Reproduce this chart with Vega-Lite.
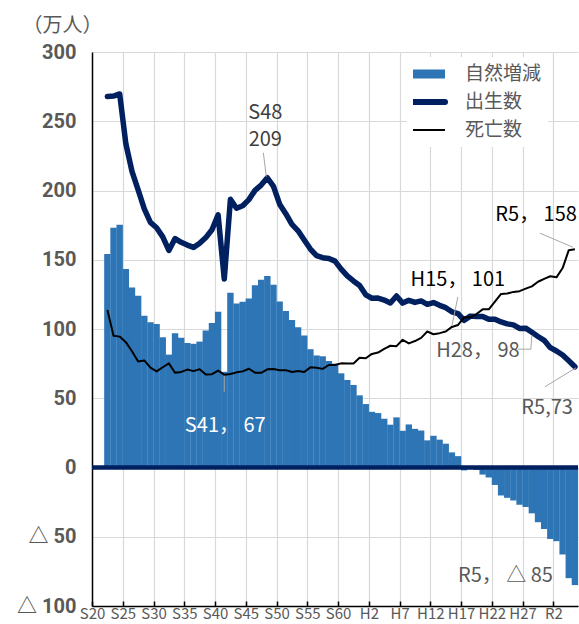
{
  "$schema": "https://vega.github.io/schema/vega-lite/v6.json",
  "width": 486,
  "height": 554,
  "autosize": "none",
  "padding": {"left": 92, "top": 52, "right": 1, "bottom": 18},
  "background": "white",
  "config": {
    "view": {"stroke": null},
    "font": "Noto Sans CJK JP",
    "axis": {"labelOverlap": false},
    "axisX": {"labelOverlap": false}
  },
  "datasets": {
    "d": [
      {"year":1947,"birth":267.9,"death":113.8,"nat":154.1},
      {"year":1948,"birth":268.2,"death":95.1,"nat":173.1},
      {"year":1949,"birth":269.7,"death":94.5,"nat":175.2},
      {"year":1950,"birth":233.8,"death":90.5,"nat":143.3},
      {"year":1951,"birth":213.8,"death":83.9,"nat":129.9},
      {"year":1952,"birth":200.5,"death":76.5,"nat":124.0},
      {"year":1953,"birth":186.8,"death":77.3,"nat":109.5},
      {"year":1954,"birth":177.0,"death":72.1,"nat":104.9},
      {"year":1955,"birth":173.1,"death":69.4,"nat":103.7},
      {"year":1956,"birth":166.5,"death":72.4,"nat":94.1},
      {"year":1957,"birth":156.7,"death":75.2,"nat":81.5},
      {"year":1958,"birth":165.3,"death":68.4,"nat":96.9},
      {"year":1959,"birth":162.6,"death":69.0,"nat":93.6},
      {"year":1960,"birth":160.6,"death":70.7,"nat":89.9},
      {"year":1961,"birth":158.9,"death":69.6,"nat":89.3},
      {"year":1962,"birth":161.9,"death":71.0,"nat":90.9},
      {"year":1963,"birth":166.0,"death":67.1,"nat":98.9},
      {"year":1964,"birth":171.7,"death":67.4,"nat":104.3},
      {"year":1965,"birth":182.4,"death":70.0,"nat":112.4},
      {"year":1966,"birth":136.1,"death":67.0,"nat":69.1},
      {"year":1967,"birth":193.6,"death":67.5,"nat":126.1},
      {"year":1968,"birth":187.2,"death":68.7,"nat":118.5},
      {"year":1969,"birth":189.0,"death":69.4,"nat":119.6},
      {"year":1970,"birth":193.4,"death":71.3,"nat":122.1},
      {"year":1971,"birth":200.1,"death":68.5,"nat":131.6},
      {"year":1972,"birth":203.9,"death":68.4,"nat":135.5},
      {"year":1973,"birth":209.2,"death":70.9,"nat":138.3},
      {"year":1974,"birth":203.0,"death":71.1,"nat":131.9},
      {"year":1975,"birth":190.1,"death":70.2,"nat":119.9},
      {"year":1976,"birth":183.3,"death":70.3,"nat":113.0},
      {"year":1977,"birth":175.5,"death":69.0,"nat":106.5},
      {"year":1978,"birth":170.9,"death":69.6,"nat":101.3},
      {"year":1979,"birth":164.3,"death":69.0,"nat":95.3},
      {"year":1980,"birth":157.7,"death":72.3,"nat":85.4},
      {"year":1981,"birth":152.9,"death":72.0,"nat":80.9},
      {"year":1982,"birth":151.5,"death":71.2,"nat":80.3},
      {"year":1983,"birth":150.9,"death":74.0,"nat":76.9},
      {"year":1984,"birth":149.0,"death":74.0,"nat":75.0},
      {"year":1985,"birth":143.2,"death":75.2,"nat":68.0},
      {"year":1986,"birth":138.3,"death":75.1,"nat":63.2},
      {"year":1987,"birth":134.7,"death":75.1,"nat":59.6},
      {"year":1988,"birth":131.4,"death":79.3,"nat":52.1},
      {"year":1989,"birth":124.7,"death":78.9,"nat":45.8},
      {"year":1990,"birth":122.2,"death":82.0,"nat":40.2},
      {"year":1991,"birth":122.3,"death":83.0,"nat":39.3},
      {"year":1992,"birth":120.9,"death":85.7,"nat":35.2},
      {"year":1993,"birth":118.8,"death":87.9,"nat":30.9},
      {"year":1994,"birth":123.8,"death":87.6,"nat":36.2},
      {"year":1995,"birth":118.7,"death":92.2,"nat":26.5},
      {"year":1996,"birth":120.7,"death":89.6,"nat":31.1},
      {"year":1997,"birth":119.2,"death":91.3,"nat":27.9},
      {"year":1998,"birth":120.3,"death":93.6,"nat":26.7},
      {"year":1999,"birth":117.8,"death":98.2,"nat":19.6},
      {"year":2000,"birth":119.1,"death":96.2,"nat":22.9},
      {"year":2001,"birth":117.1,"death":97.0,"nat":20.1},
      {"year":2002,"birth":115.4,"death":98.2,"nat":17.2},
      {"year":2003,"birth":112.4,"death":101.5,"nat":10.9},
      {"year":2004,"birth":111.1,"death":102.9,"nat":8.2},
      {"year":2005,"birth":106.3,"death":108.4,"nat":-2.1},
      {"year":2006,"birth":109.3,"death":108.4,"nat":0.9},
      {"year":2007,"birth":109.0,"death":110.8,"nat":-1.8},
      {"year":2008,"birth":109.1,"death":114.2,"nat":-5.1},
      {"year":2009,"birth":107.0,"death":114.2,"nat":-7.2},
      {"year":2010,"birth":107.1,"death":119.7,"nat":-12.6},
      {"year":2011,"birth":105.1,"death":125.3,"nat":-20.2},
      {"year":2012,"birth":103.7,"death":125.6,"nat":-21.9},
      {"year":2013,"birth":103.0,"death":126.8,"nat":-23.8},
      {"year":2014,"birth":100.4,"death":127.3,"nat":-26.9},
      {"year":2015,"birth":100.6,"death":129.1,"nat":-28.5},
      {"year":2016,"birth":97.7,"death":130.8,"nat":-33.1},
      {"year":2017,"birth":94.6,"death":134.1,"nat":-39.5},
      {"year":2018,"birth":91.8,"death":136.2,"nat":-44.4},
      {"year":2019,"birth":86.5,"death":138.1,"nat":-51.6},
      {"year":2020,"birth":84.1,"death":137.3,"nat":-53.2},
      {"year":2021,"birth":81.2,"death":144.0,"nat":-62.8},
      {"year":2022,"birth":77.0,"death":156.9,"nat":-79.9},
      {"year":2023,"birth":72.7,"death":157.6,"nat":-84.9}
    ]
  },
  "layer": [
    {
      "data": {"name": "d"},
      "mark": {"type": "bar", "width": 6.4},
      "encoding": {
        "x": {
          "field": "year", "type": "quantitative",
          "scale": {"domain": [1944.5, 2023.5], "nice": false, "zero": false, "padding": 0},
          "axis": {
            "title": null,
            "tickCount": 40,
            "values": [1944.5,1949.5,1954.5,1959.5,1964.5,1969.5,1974.5,1979.5,1984.5,1989.5,1994.5,1999.5,2004.5,2009.5,2014.5,2019.5],
            "labelExpr": "datum.value < 1989 ? 'S' + round(datum.value - 1924.5) : datum.value < 2019 ? 'H' + round(datum.value - 1987.5) : 'R' + round(datum.value - 2017.5)",
            "labelFlush": false,
            "labelOverlap": false,
            "labelFont": "Noto Sans CJK JP",
            "labelFontSize": 15,
            "labelColor": "#595959",
            "labelPadding": 5,
            "tickSize": -5,
            "tickColor": "#000000",
            "tickWidth": 1.5,
            "domainColor": "#000000",
            "domainWidth": 1.5,
            "grid": true,
            "gridColor": "#D9D9D9",
            "gridWidth": 1.2
          }
        },
        "y": {
          "field": "nat", "type": "quantitative",
          "scale": {"domain": [-100, 300], "nice": false},
          "axis": {
            "title": "（万人）",
            "titleAngle": 0,
            "titleX": -30,
            "titleY": -27,
            "titleAlign": "center",
            "titleBaseline": "middle",
            "titleFont": "Noto Sans CJK JP",
            "titleFontSize": 20,
            "titleFontWeight": "normal",
            "titleColor": "#595959",
            "tickCount": 20,
            "values": [-100, -50, 0, 50, 100, 150, 200, 250, 300],
            "labelExpr": "datum.value < 0 ? '△ ' + abs(datum.value) : '' + datum.value",
            "labelFont": "Roboto, Noto Sans CJK JP",
            "labelFontSize": 20,
            "labelFontWeight": "bold",
            "labelColor": "#595959",
            "labelPadding": 16,
            "ticks": false,
            "domainColor": "#000000",
            "domainWidth": 1.5,
            "grid": true,
            "gridColor": "#D9D9D9",
            "gridWidth": 1.2
          }
        },
        "color": {
          "datum": "自然増減",
          "scale": {"domain": ["自然増減", "出生数", "死亡数"], "range": ["#2E75B6", "#002060", "#000000"]},
          "legend": {
            "title": null,
            "orient": "none",
            "legendX": 315,
            "legendY": 5,
            "fillColor": "white",
            "padding": 6,
            "symbolType": "stroke",
            "symbolSize": 2025,
            "clipHeight": 22,
            "rowPadding": 6,
            "labelOffset": 33,
            "labelFont": "Noto Sans CJK JP",
            "labelFontSize": 19,
            "labelColor": "#595959",
            "encode": {
              "symbols": {
                "update": {
                  "stroke": {"scale": "color", "field": "value"},
                  "fill": {"value": "transparent"},
                  "strokeWidth": {"signal": "datum.value == '自然増減' ? 9 : datum.value == '出生数' ? 6 : 2"},
                  "strokeCap": {"signal": "datum.value == '出生数' ? 'round' : 'butt'"}
                }
              }
            }
          }
        }
      }
    },
    {
      "data": {"values": [{}]},
      "mark": {"type": "rule", "color": "#002060", "strokeWidth": 4.5},
      "encoding": {"y": {"datum": 0, "type": "quantitative"}}
    },
    {
      "data": {"name": "d"},
      "mark": {"type": "line", "strokeWidth": 5.5, "strokeCap": "round", "strokeJoin": "round"},
      "encoding": {
        "x": {"field": "year", "type": "quantitative"},
        "y": {"field": "birth", "type": "quantitative"},
        "color": {"datum": "出生数"}
      }
    },
    {
      "data": {"name": "d"},
      "mark": {"type": "line", "strokeWidth": 2, "strokeJoin": "round"},
      "encoding": {
        "x": {"field": "year", "type": "quantitative"},
        "y": {"field": "death", "type": "quantitative"},
        "color": {"datum": "死亡数"}
      }
    },
    {
      "data": {"values": [{"year": 1973, "value": 209.2}]},
      "mark": {"type": "rule", "color": "#A6A6A6", "strokeWidth": 1, "xOffset": -4, "yOffset": -25, "x2Offset": -1, "y2Offset": -1},
      "encoding": {"x": {"field": "year", "type": "quantitative"}, "y": {"field": "value", "type": "quantitative"}, "x2": {"field": "year"}, "y2": {"field": "value"}}
    },
    {
      "data": {"values": [{"year": 1973, "value": 209.2, "label": "S48\n209"}]},
      "mark": {"type": "text", "lineBreak": "\n", "lineHeight": 27, "align": "center", "baseline": "bottom", "dx": -2, "dy": -55, "fontSize": 20, "color": "#404040"},
      "encoding": {"x": {"field": "year", "type": "quantitative"}, "y": {"field": "value", "type": "quantitative"}, "text": {"field": "label"}}
    },
    {
      "data": {"values": [{"year": 1966, "value": 67.0}]},
      "mark": {"type": "rule", "color": "#A6A6A6", "strokeWidth": 1, "xOffset": 0, "yOffset": 1, "x2Offset": 0, "y2Offset": 17},
      "encoding": {"x": {"field": "year", "type": "quantitative"}, "y": {"field": "value", "type": "quantitative"}, "x2": {"field": "year"}, "y2": {"field": "value"}}
    },
    {
      "data": {"values": [{"year": 1966, "value": 67.0, "label": "S41， 67"}]},
      "mark": {"type": "text", "align": "center", "baseline": "middle", "dx": 1, "dy": 51, "fontSize": 20, "color": "#FFFFFF"},
      "encoding": {"x": {"field": "year", "type": "quantitative"}, "y": {"field": "value", "type": "quantitative"}, "text": {"field": "label"}}
    },
    {
      "data": {"values": [{"year": 2003, "value": 101.5}]},
      "mark": {"type": "rule", "color": "#A6A6A6", "strokeWidth": 1, "xOffset": 6, "yOffset": -30, "x2Offset": 0, "y2Offset": -1},
      "encoding": {"x": {"field": "year", "type": "quantitative"}, "y": {"field": "value", "type": "quantitative"}, "x2": {"field": "year"}, "y2": {"field": "value"}}
    },
    {
      "data": {"values": [{"year": 2003, "value": 101.5, "label": "H15， 101"}]},
      "mark": {"type": "text", "align": "center", "baseline": "middle", "dx": 6, "dy": -47, "fontSize": 20, "color": "#000000"},
      "encoding": {"x": {"field": "year", "type": "quantitative"}, "y": {"field": "value", "type": "quantitative"}, "text": {"field": "label"}}
    },
    {
      "data": {"values": [{"year": 2016, "value": 97.7}]},
      "mark": {"type": "rule", "color": "#A6A6A6", "strokeWidth": 1, "xOffset": -14, "yOffset": 17, "x2Offset": -1, "y2Offset": 17},
      "encoding": {"x": {"field": "year", "type": "quantitative"}, "y": {"field": "value", "type": "quantitative"}, "x2": {"field": "year"}, "y2": {"field": "value"}}
    },
    {
      "data": {"values": [{"year": 2016, "value": 97.7}]},
      "mark": {"type": "rule", "color": "#A6A6A6", "strokeWidth": 1, "xOffset": -1, "yOffset": 17, "x2Offset": 0, "y2Offset": 3},
      "encoding": {"x": {"field": "year", "type": "quantitative"}, "y": {"field": "value", "type": "quantitative"}, "x2": {"field": "year"}, "y2": {"field": "value"}}
    },
    {
      "data": {"values": [{"year": 2016, "value": 97.7, "label": "H28， 98"}]},
      "mark": {"type": "text", "align": "center", "baseline": "middle", "dx": -54, "dy": 19, "fontSize": 20, "color": "#595959"},
      "encoding": {"x": {"field": "year", "type": "quantitative"}, "y": {"field": "value", "type": "quantitative"}, "text": {"field": "label"}}
    },
    {
      "data": {"values": [{"year": 2023, "value": 157.6}]},
      "mark": {"type": "rule", "color": "#A6A6A6", "strokeWidth": 1, "xOffset": -35, "yOffset": -16, "x2Offset": -2, "y2Offset": -2},
      "encoding": {"x": {"field": "year", "type": "quantitative"}, "y": {"field": "value", "type": "quantitative"}, "x2": {"field": "year"}, "y2": {"field": "value"}}
    },
    {
      "data": {"values": [{"year": 2023, "value": 157.6, "label": "R5， 158"}]},
      "mark": {"type": "text", "align": "right", "baseline": "middle", "dx": 2, "dy": -34, "fontSize": 20, "color": "#000000"},
      "encoding": {"x": {"field": "year", "type": "quantitative"}, "y": {"field": "value", "type": "quantitative"}, "text": {"field": "label"}}
    },
    {
      "data": {"values": [{"year": 2023, "value": 72.7}]},
      "mark": {"type": "rule", "color": "#A6A6A6", "strokeWidth": 1, "xOffset": 1, "yOffset": 1, "x2Offset": -30, "y2Offset": 20},
      "encoding": {"x": {"field": "year", "type": "quantitative"}, "y": {"field": "value", "type": "quantitative"}, "x2": {"field": "year"}, "y2": {"field": "value"}}
    },
    {
      "data": {"values": [{"year": 2023, "value": 72.7, "label": "R5,73"}]},
      "mark": {"type": "text", "align": "right", "baseline": "middle", "dx": -2, "dy": 41, "fontSize": 20, "color": "#595959"},
      "encoding": {"x": {"field": "year", "type": "quantitative"}, "y": {"field": "value", "type": "quantitative"}, "text": {"field": "label"}}
    },
    {
      "data": {"values": [{"year": 2023, "value": -84.9, "label": "R5， △ 85"}]},
      "mark": {"type": "text", "align": "right", "baseline": "middle", "dx": -22, "dy": -9, "fontSize": 20, "color": "#595959"},
      "encoding": {"x": {"field": "year", "type": "quantitative"}, "y": {"field": "value", "type": "quantitative"}, "text": {"field": "label"}}
    }
  ]
}
